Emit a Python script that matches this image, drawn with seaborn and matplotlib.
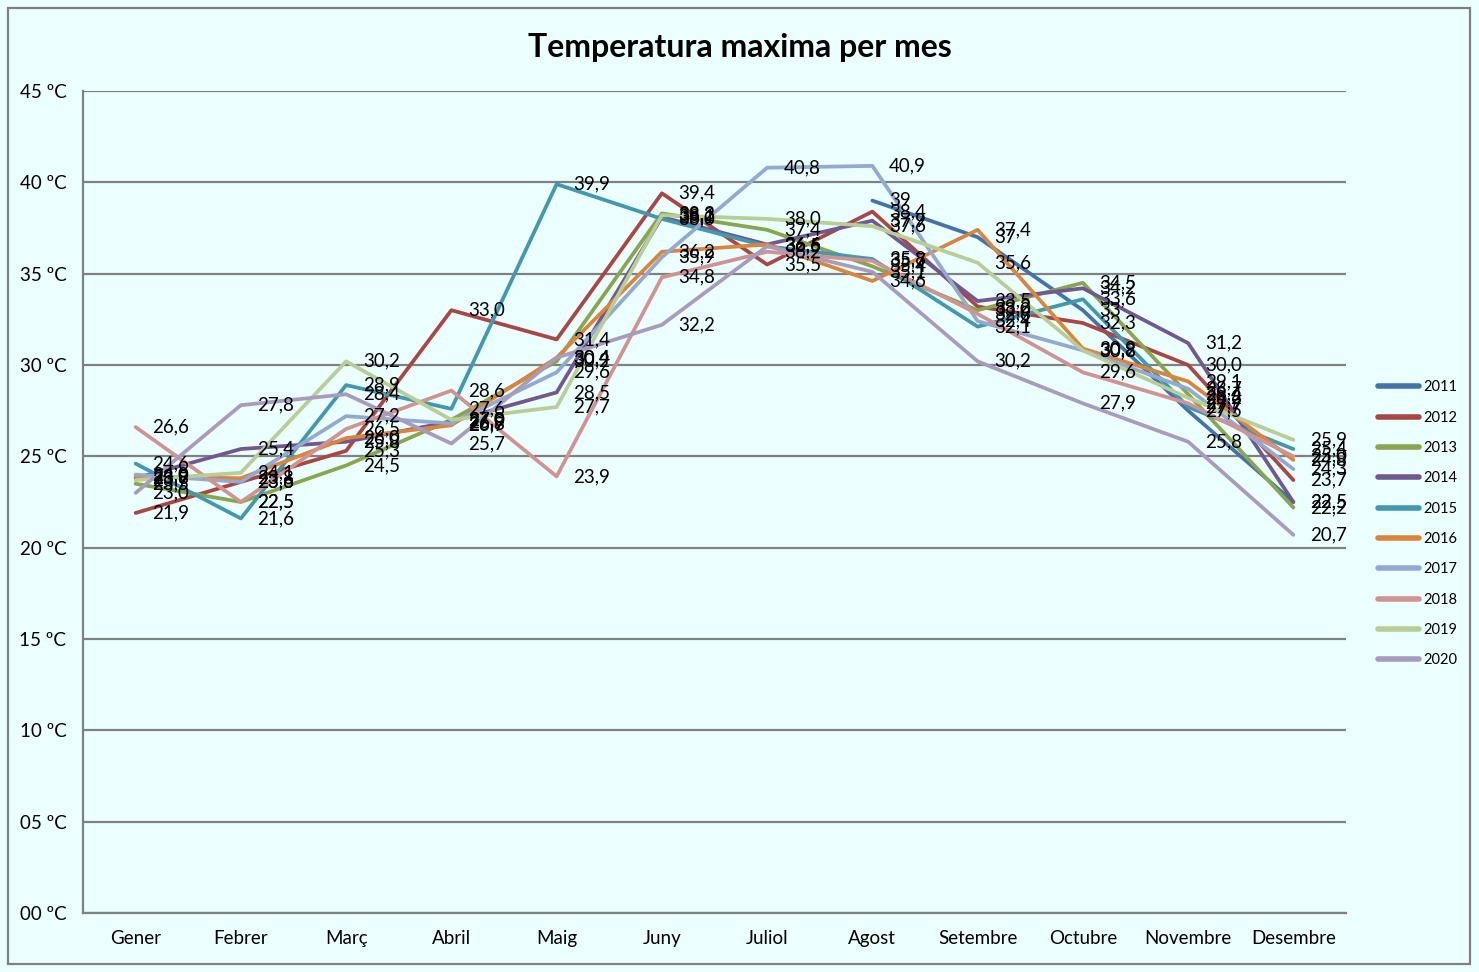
import matplotlib
matplotlib.use("Agg")
import matplotlib.pyplot as plt
import seaborn as sns
import pandas as pd
import numpy as np
from matplotlib.patches import Rectangle

mesos = ['Gener', 'Febrer', 'Març', 'Abril', 'Maig', 'Juny', 'Juliol',
         'Agost', 'Setembre', 'Octubre', 'Novembre', 'Desembre']
anys = ['2011', '2012', '2013', '2014', '2015', '2016', '2017', '2018', '2019', '2020']

t2011 = [np.nan, np.nan, np.nan, np.nan, np.nan, np.nan, np.nan, 39.0, 37.0, 33.0, 27.5, 22.5]
t2012 = [21.9, 23.6, 25.3, 33.0, 31.4, 39.4, 35.5, 38.4, 33.2, 32.3, 30.0, 23.7]
t2013 = [23.5, 22.5, 24.5, 27.0, 30.2, 38.3, 37.4, 35.4, 33.0, 34.5, 28.4, 22.2]
t2014 = [23.8, 25.4, 25.8, 26.9, 28.5, 38.1, 36.6, 37.9, 33.5, 34.2, 31.2, 22.5]
t2015 = [24.6, 21.6, 28.9, 27.6, 39.9, 38.0, 36.5, 35.8, 32.1, 33.6, 27.7, 25.4]
t2016 = [23.9, 23.8, 26.0, 26.7, 30.4, 36.2, 36.6, 34.6, 37.4, 30.9, 29.1, 24.8]
t2017 = [24.0, 23.6, 27.2, 26.8, 29.6, 35.9, 40.8, 40.9, 32.4, 30.8, 28.7, 24.3]
t2018 = [26.6, 22.5, 26.5, 28.6, 23.9, 34.8, 36.2, 35.7, 32.8, 29.6, 27.9, 25.0]
t2019 = [23.7, 24.1, 30.2, 27.0, 27.7, 38.2, 38.0, 37.6, 35.6, 30.8, 28.2, 25.9]
t2020 = [23.0, 27.8, 28.4, 25.7, 30.4, 32.2, 36.5, 35.1, 30.2, 27.9, 25.8, 20.7]

series = [t2011, t2012, t2013, t2014, t2015, t2016, t2017, t2018, t2019, t2020]
colors = ['#4572A7', '#AA4643', '#89A54E', '#71588F', '#4198AF',
          '#DB843D', '#93A9CF', '#D19392', '#B9CD96', '#A99BBD']
paleta = dict(zip(anys, colors))

rows = []
for a, vals in zip(anys, series):
    for m, v in zip(mesos, vals):
        rows.append({'mes': m, 'any': a, 'temp': v})
df = pd.DataFrame(rows)
df['mes'] = pd.Categorical(df['mes'], categories=mesos, ordered=True)

bg = '#ECFFFF'
sns.set_style('white')
plt.rcParams['font.family'] = ['Lato', 'DejaVu Sans']
plt.rcParams['text.color'] = 'black'

fig = plt.figure(figsize=(14.79, 9.72), dpi=100, facecolor=bg)
ax = fig.add_axes([83 / 1479, 1 - 913 / 972, (1346 - 83) / 1479, (913 - 91) / 972])
ax.set_facecolor(bg)

sns.lineplot(data=df, x='mes', y='temp', hue='any', hue_order=anys,
             palette=paleta, linewidth=2.7, estimator=None, sort=False, ax=ax)

# etiquetes de dades
for a, vals in zip(anys, series):
    for i, v in enumerate(vals):
        if np.isnan(v):
            continue
        txt = ('%g' % v) if a == '2011' else ('%.1f' % v)
        ax.annotate(txt.replace('.', ','), (i, v), xytext=(12, 0),
                    textcoords='offset points', ha='left', va='center',
                    fontsize=13.5, color='black', zorder=10)

ax.set_xlim(-0.5, 11.5)
ax.set_ylim(0, 45)
ax.set_yticks(range(0, 46, 5))
ax.set_yticklabels(['%02d ºC' % t for t in range(0, 46, 5)])
ax.set_xlabel('')
ax.set_ylabel('')
ax.tick_params(axis='both', length=0, labelsize=13.5, colors='black')
ax.tick_params(axis='y', pad=12)
ax.tick_params(axis='x', pad=12)
ax.grid(axis='y', color='#808080', linewidth=1.6)
ax.grid(axis='x', visible=False)
for s in ['top', 'right']:
    ax.spines[s].set_visible(False)
for s in ['left', 'bottom']:
    ax.spines[s].set_color('#808080')
    ax.spines[s].set_linewidth(1.6)

leg = ax.legend(loc='center left', bbox_to_anchor=(1365 / 1479, 0.461),
                bbox_transform=fig.transFigure, frameon=False, fontsize=10.5,
                handlelength=2.8, labelspacing=1.12, handletextpad=0.3)
for h in leg.get_lines():
    h.set_linewidth(4)
for t in leg.get_texts():
    t.set_color('black')

fig.text(0.5, 1 - 47 / 972, 'Temperatura maxima per mes', ha='center', va='center',
         fontsize=23, fontweight='bold', color='black')

fig.patches.append(Rectangle((8 / 1479, 1 - 964 / 972), 1462 / 1479, 956 / 972,
                             transform=fig.transFigure, fill=False,
                             edgecolor='#808080', linewidth=1.6))

fig.savefig('out.png', dpi=100, facecolor=bg)
